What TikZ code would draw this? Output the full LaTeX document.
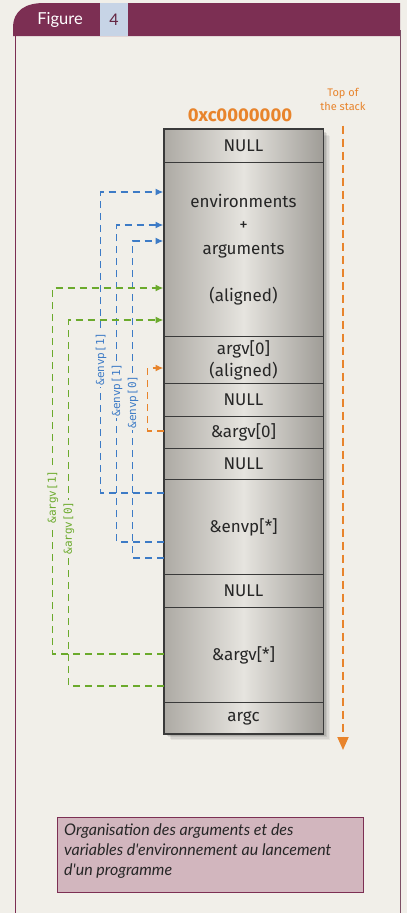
\documentclass[tikz,border=0pt]{standalone}
\usepackage{fontspec}
\setmainfont{Fira Sans}
\newfontfamily\capfont{Lato}
\newfontfamily\ptrfont{DejaVu Sans Mono}
\usetikzlibrary{arrows.meta,calc}

\definecolor{paper}{HTML}{F1EFE9}
\definecolor{plum}{HTML}{7C2F53}
\definecolor{tabblue}{HTML}{C7D4E6}
\definecolor{capfill}{HTML}{D2B6BE}
\definecolor{ptrblue}{HTML}{3D7BC6}
\definecolor{ptrgreen}{HTML}{6BAA2C}
\definecolor{ptrorange}{HTML}{E8842C}
\definecolor{cellmid}{HTML}{E6E4DF}
\definecolor{celledge}{HTML}{ADAAA4}
\definecolor{cellline}{HTML}{3A3A3A}

\begin{document}
\begin{tikzpicture}[x=1pt,y=-1pt,
  cell/.style={draw=cellline, line width=1pt, minimum width=159pt, inner sep=0pt,
    anchor=north, left color=celledge, right color=celledge!92!black, middle color=cellmid,
    text=black!85, align=center, font=\fontsize{17}{22}\selectfont},
  ptr/.style={line width=1.8pt, dash pattern=on 7pt off 5pt,
    -{Latex[length=8pt,width=7pt]}},
  lbl/.style={rotate=90, fill=paper, inner sep=1.5pt, font=\ptrfont\fontsize{11}{12}\selectfont}
]
\useasboundingbox (0,0) rectangle (407,913);
\fill[paper] (0,0) rectangle (407,913);

% frame and header bar
\draw[plum, line width=0.8pt] (15,30) -- (15,913);
\draw[plum!60!gray, line width=0.8pt] (400,30) -- (400,913);
\fill[plum] (13,36) -- (13,28) .. controls (13,10) and (26,3) .. (44,3) -- (400,3) -- (400,36) -- cycle;
\node[fill=tabblue, minimum width=28pt, minimum height=33pt, inner sep=0pt,
  text=plum!80!black, font=\capfont\fontsize{16}{18}\selectfont] (fignum) at (114,19.5) {4};
\node[text=white, font=\capfont\fontsize{16.5}{18}\selectfont] (figlabel) at (60,20) {Figure};

% soft shadow of the stack
\foreach \d/\o in {7/0.05,5.5/0.06,4/0.08,2.5/0.1} {
  \fill[black, opacity=\o] (164+\d,129+\d) rectangle (323+\d,733+\d);
}

% stack cells
\node[cell, minimum height=33pt] (null1) at (243.5,129) {NULL};
\node[cell, minimum height=174pt, font=\fontsize{17}{23.5}\selectfont] (env) at (243.5,162)
  {environments\\+\\arguments\\[24pt](aligned)};
\node[cell, minimum height=47pt] (argvstr) at (243.5,336) {argv[0]\\(aligned)};
\node[cell, minimum height=33pt] (null2) at (243.5,383) {NULL};
\node[cell, minimum height=32pt] (argvzero) at (243.5,416) {\&argv[0]};
\node[cell, minimum height=31pt] (null3) at (243.5,448) {NULL};
\node[cell, minimum height=95pt] (envpstar) at (243.5,479) {\&envp[*]};
\node[cell, minimum height=33pt] (null4) at (243.5,574) {NULL};
\node[cell, minimum height=95pt] (argvstar) at (243.5,607) {\&argv[*]};
\node[cell, minimum height=31pt] (argc) at (243.5,702) {argc};
\draw[cellline, line width=1.8pt] (null1.north west) rectangle (argc.south east);

% address and growth direction
\node[text=ptrorange, font=\bfseries\fontsize{18.5}{20}\selectfont] (addr) at (240,115) {0xc0000000};
\node[text=ptrorange, align=center, font=\fontsize{11}{14}\selectfont] (topstack) at (343,99) {Top of\\the stack};
\coordinate (stackend) at (343,750);
\draw[ptrorange, line width=1.9pt, dash pattern=on 8pt off 5pt,
  -{Triangle[length=13pt,width=11pt]}] ([yshift=-12pt]topstack.south) -- (stackend);

% envp pointers
\coordinate (b1s) at ([yshift=-14pt]envpstar.north west);
\coordinate (b1e) at ([yshift=-30pt]env.north west);
\coordinate (b2s) at ([yshift=-63pt]envpstar.north west);
\coordinate (b2e) at ([yshift=-63pt]env.north west);
\coordinate (b3s) at ([yshift=-79pt]envpstar.north west);
\coordinate (b3e) at ([yshift=-79pt]env.north west);
\draw[ptr, ptrblue] (b1s) -- ++(-63,0) |- (b1e);
\draw[ptr, ptrblue] (b2s) -- ++(-47,0) |- (b2e);
\draw[ptr, ptrblue] (b3s) -- ++(-31,0) |- (b3e);

% argv pointers
\coordinate (g1s) at ([yshift=-47pt]argvstar.north west);
\coordinate (g1e) at ([yshift=-126pt]env.north west);
\coordinate (g2s) at ([yshift=-79pt]argvstar.north west);
\coordinate (g2e) at ([yshift=-158pt]env.north west);
\draw[ptr, ptrgreen] (g1s) -- ++(-111,0) |- (g1e);
\draw[ptr, ptrgreen] (g2s) -- ++(-95,0) |- (g2e);

% argv[0] pointer to its string
\coordinate (o1s) at ([yshift=-15pt]argvzero.north west);
\coordinate (o1e) at ([yshift=-32pt]argvstr.north west);
\draw[ptr, ptrorange] (o1s) -- ++(-16,0) |- (o1e);

% pointer labels
\node[lbl, text=ptrblue] (lb1) at (101,359) {\&envp[1]};
\node[lbl, text=ptrblue] (lb2) at (117,390) {\&envp[1]};
\node[lbl, text=ptrblue] (lb3) at (133,402) {\&envp[0]};
\node[lbl, text=ptrgreen] (lg1) at (53,497) {\&argv[1]};
\node[lbl, text=ptrgreen] (lg2) at (69,528) {\&argv[0]};

% caption
\node[draw=plum, line width=0.8pt, fill=capfill, minimum width=306pt, minimum height=75pt,
  anchor=north west, inner sep=0pt] (capbox) at (57,817) {};
\node[anchor=north west, align=left, inner sep=0pt, text=black!85,
  font=\capfont\itshape\fontsize{16}{20}\selectfont] (captext) at (64,824)
  {Organisation des arguments et des\\variables d'environnement au lancement\\d'un programme};
\end{tikzpicture}
\end{document}
